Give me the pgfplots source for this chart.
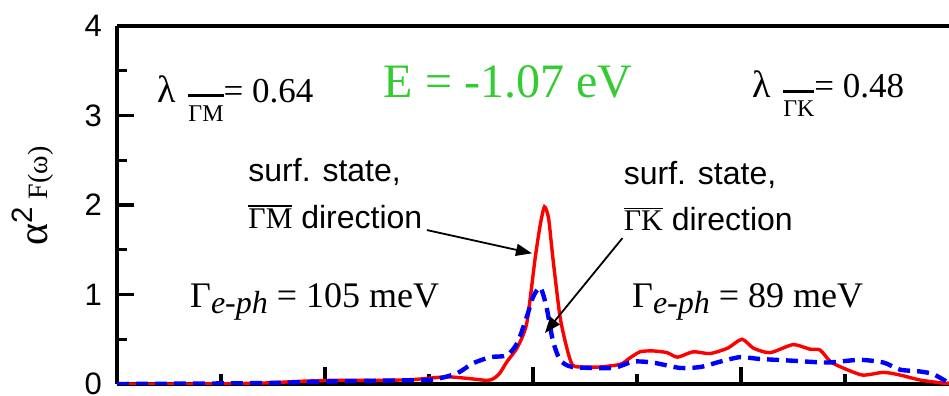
\documentclass[border=0pt]{standalone}
\usepackage{fontspec}
\setmainfont{Liberation Serif}
\newfontfamily\arial{Liberation Sans}
\usepackage{pgfplots}
\pgfplotsset{compat=1.18}
\usetikzlibrary{arrows.meta}
\definecolor{egreen}{RGB}{51,204,51}
\newcommand{\ovl}[3]{\vbox{\hrule height #1\kern#2\hbox{#3}}}
\begin{document}
\begin{tikzpicture}
\begin{axis}[
  scale only axis, width=416pt, height=179pt,
  xmin=0, xmax=8, ymin=0, ymax=4,
  axis x line=box, axis y line=left,
  x axis line style={-, line width=1.6pt}, y axis line style={-, line width=1.6pt},
  xtick pos=bottom,
  xtick={2,4,6}, minor xtick={1,3,5,7}, xticklabels={},
  ytick={0,1,2,3,4}, minor ytick={0.5,1.5,2.5,3.5},
  tick align=inside,
  major tick length=8.5pt, minor tick length=5pt,
  tick style={line width=1.6pt, black},
  yticklabel style={font=\arial\fontsize{15.5}{18}\selectfont, xshift=-4pt},
  /pgf/number format/assume math mode=true,
  clip=true,
]
\addplot[red, line width=1.7pt, smooth, tension=0.4] coordinates {
(0.00,0.00) (0.80,0.00) (1.39,0.01) (1.76,0.03) (2.05,0.04) (2.53,0.04) (2.85,0.05)
(3.17,0.08) (3.39,0.06) (3.56,0.04) (3.62,0.06) (3.68,0.12) (3.75,0.25) (3.85,0.41)
(3.94,0.68) (4.02,1.40) (4.07,1.78) (4.11,1.98) (4.15,1.85) (4.19,1.42) (4.26,0.75)
(4.33,0.38) (4.38,0.21) (4.45,0.19) (4.64,0.19) (4.84,0.22) (4.93,0.29) (5.03,0.36)
(5.15,0.37) (5.29,0.35) (5.39,0.30) (5.54,0.36) (5.70,0.34) (5.87,0.40) (6.01,0.50)
(6.12,0.40) (6.28,0.35) (6.50,0.44) (6.66,0.39) (6.76,0.38) (6.86,0.25) (6.98,0.18)
(7.17,0.10) (7.37,0.13) (7.53,0.10) (7.72,0.045) (7.94,0.01) (8.00,0.01)
};
\addplot[blue, line width=2.2pt, dash pattern=on 6pt off 3.5pt, smooth, tension=0.4] coordinates {
(0.00,0.00) (1.38,0.01) (2.09,0.03) (2.69,0.04) (3.04,0.05) (3.27,0.12) (3.42,0.23)
(3.59,0.30) (3.75,0.32) (3.85,0.46) (3.94,0.75) (4.00,0.97) (4.07,1.08) (4.13,0.86)
(4.19,0.49) (4.26,0.27) (4.38,0.19) (4.77,0.18) (4.96,0.25) (5.15,0.24) (5.41,0.18)
(5.61,0.19) (5.80,0.25) (5.99,0.30) (6.18,0.28) (6.50,0.26) (6.83,0.24) (7.14,0.27)
(7.37,0.24) (7.53,0.16) (7.72,0.14) (7.85,0.11) (8.00,0.01)
};
\coordinate (bbsw) at (axis cs:-1.125,-0.1229);
\coordinate (bbne) at (axis cs:8.0,4.2905);
\coordinate (ylab) at (axis cs:-0.808,2.10);
\node[anchor=base west, inner sep=0] at (axis cs:0.39,3.15)
  {\fontsize{19}{20}\selectfont λ\hspace{6pt}\raisebox{-9.5pt}{\fontsize{12}{14}\selectfont\ovl{1.5pt}{4pt}{ΓM}}\fontsize{17.5}{20}\selectfont= 0.64};
\node[anchor=base, inner sep=0, text=egreen] at (axis cs:3.76,3.20)
  {\fontsize{24}{28}\selectfont E = -1.07 eV};
\node[anchor=base west, inner sep=0] at (axis cs:6.11,3.20)
  {\fontsize{19}{20}\selectfont λ\hspace{6pt}\raisebox{-9.5pt}{\fontsize{12}{14}\selectfont\ovl{1.5pt}{4pt}{ΓK}}\fontsize{17.5}{20}\selectfont= 0.48};
\node[anchor=base west, inner sep=0] at (axis cs:1.26,2.26)
  {\arial\fontsize{16}{19}\selectfont surf. state,};
\node[anchor=base west, inner sep=0] at (axis cs:1.26,1.74)
  {\fontsize{15}{18}\selectfont\ovl{0.8pt}{1pt}{ΓM}\arial\fontsize{16}{19}\selectfont{} direction};
\node[anchor=base west, inner sep=0] at (axis cs:4.87,2.23)
  {\arial\fontsize{16}{19}\selectfont surf. state,};
\node[anchor=base west, inner sep=0] at (axis cs:4.87,1.71)
  {\fontsize{15}{18}\selectfont\ovl{0.8pt}{1pt}{ΓK}\arial\fontsize{16}{19}\selectfont{} direction};
\node[anchor=base west, inner sep=0] at (axis cs:0.70,0.86)
  {\fontsize{18}{22}\selectfont Γ\raisebox{-3pt}{\fontsize{16}{20}\selectfont\itshape e-ph} = 105 meV};
\node[anchor=base west, inner sep=0] at (axis cs:4.95,0.86)
  {\fontsize{18}{22}\selectfont Γ\raisebox{-3pt}{\fontsize{16}{20}\selectfont\itshape e-ph} = 89 meV};
\draw[line width=0.9pt, -{Triangle[length=8pt,width=6pt]}] (axis cs:2.98,1.72) -- (axis cs:3.99,1.46);
\draw[line width=0.9pt, -{Triangle[length=8pt,width=6pt]}] (axis cs:4.86,1.63) -- (axis cs:4.115,0.57);
\end{axis}
\node[rotate=90, anchor=center, inner sep=0] at (ylab)
  {\fontsize{21}{22}\selectfont α\textsuperscript{\arial 2}\,\fontsize{14}{16}\selectfont F(ω)};
\pgfresetboundingbox
\useasboundingbox (bbsw) rectangle (bbne);
\end{tikzpicture}
\end{document}
